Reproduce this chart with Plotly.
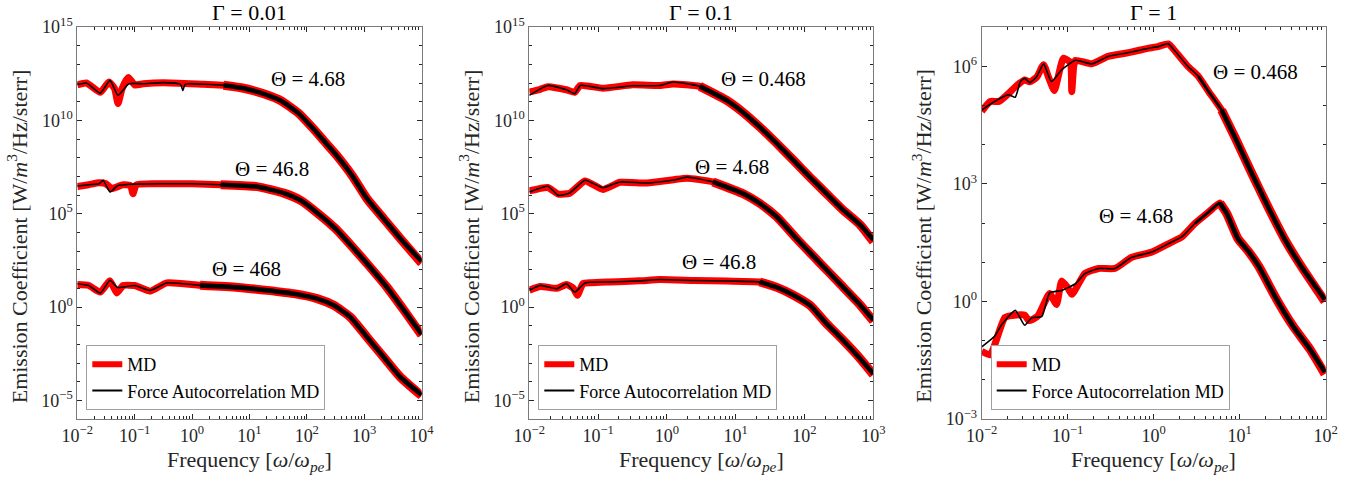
import plotly.graph_objects as go

# ---------------- data: log10(frequency [w/w_pe]) and log10(emission coefficient) ----------------
# Gamma = 0.01
g1_t468a_fa_x = [-2.0, -1.84, -1.6, -1.43, -1.29, -1.1, -0.85, -0.5, -0.2, -0.16, -0.12, 0.2, 0.55, 0.9, 1.25, 1.55, 1.85, 2.1, 2.3, 2.5, 2.8, 3.05, 3.35, 3.65, 4.0]
g1_t468a_fa_y = [11.91, 12.0, 11.46, 12.14, 11.34, 11.96, 11.96, 12.02, 11.93, 11.6, 11.93, 11.93, 11.88, 11.72, 11.42, 11.05, 10.4, 9.6, 8.9, 8.2, 7.0, 5.8, 4.7, 3.6, 2.45]
g1_t468a_md_x = [-2.0, -1.84, -1.6, -1.45, -1.35, -1.29, -1.22, -1.11, -1.0, -0.85, -0.5, 0.2, 0.55, 0.9, 1.25, 1.55, 1.85, 2.1, 2.3, 2.5, 2.8, 3.05, 3.35, 3.65, 4.0]
g1_t468a_md_y = [11.9, 12.0, 11.5, 12.05, 11.7, 10.9, 11.7, 12.3, 11.9, 11.96, 12.02, 11.93, 11.88, 11.72, 11.42, 11.05, 10.4, 9.6, 8.9, 8.2, 7.0, 5.8, 4.7, 3.6, 2.35]

g1_t468b_fa_x = [-2.0, -1.8, -1.62, -1.55, -1.43, -1.3, -1.0, -0.5, 0.0, 0.5, 1.13, 1.6, 1.9, 2.2, 2.5, 2.8, 3.1, 3.4, 3.7, 4.0]
g1_t468b_fa_y = [6.48, 6.55, 6.6, 6.79, 6.16, 6.5, 6.58, 6.6, 6.6, 6.55, 6.45, 6.1, 5.7, 5.0, 4.2, 3.2, 2.15, 1.05, -0.2, -1.45]
g1_t468b_md_x = [-2.0, -1.8, -1.62, -1.5, -1.4, -1.2, -1.07, -1.03, -0.97, -0.5, 0.0, 0.5, 1.13, 1.6, 1.9, 2.2, 2.5, 2.8, 3.1, 3.4, 3.7, 4.0]
g1_t468b_md_y = [6.45, 6.55, 6.65, 6.6, 6.35, 6.55, 6.5, 6.07, 6.55, 6.6, 6.6, 6.55, 6.45, 6.1, 5.7, 5.0, 4.2, 3.2, 2.15, 1.05, -0.2, -1.5]

g1_t468c_fa_x = [-2.0, -1.8, -1.6, -1.43, -1.3, -1.0, -0.73, -0.44, 0.14, 0.8, 1.31, 1.8, 2.18, 2.47, 2.76, 3.05, 3.34, 3.63, 4.0]
g1_t468c_fa_y = [1.25, 1.15, 0.75, 1.43, 1.05, 1.15, 0.89, 1.29, 1.16, 1.05, 0.89, 0.7, 0.45, 0.09, -0.54, -1.61, -2.68, -3.75, -4.7]
g1_t468c_md_x = [-2.0, -1.8, -1.6, -1.43, -1.31, -1.2, -1.0, -0.73, -0.44, 0.14, 0.8, 1.31, 1.8, 2.18, 2.47, 2.76, 3.05, 3.34, 3.63, 4.0]
g1_t468c_md_y = [1.2, 1.15, 0.8, 1.4, 0.75, 1.15, 1.15, 0.85, 1.29, 1.16, 1.05, 0.89, 0.7, 0.45, 0.09, -0.54, -1.61, -2.68, -3.75, -4.75]

# Gamma = 0.1
g2_a_fa_x = [-2.0, -1.73, -1.46, -1.34, -1.26, -0.93, -0.5, -0.1, 0.09, 0.48, 0.87, 1.1, 1.35, 1.6, 1.84, 2.08, 2.32, 2.56, 2.81, 3.0]
g2_a_fa_y = [11.34, 11.87, 11.64, 11.43, 11.87, 11.7, 11.85, 11.87, 12.05, 11.82, 11.07, 10.45, 9.64, 8.75, 7.86, 6.95, 6.07, 5.2, 4.4, 3.6]
g2_a_md_x = [-2.0, -1.85, -1.73, -1.46, -1.34, -1.26, -0.93, -0.5, -0.1, 0.09, 0.48, 0.87, 1.1, 1.35, 1.6, 1.84, 2.08, 2.32, 2.56, 2.81, 3.0]
g2_a_md_y = [11.52, 11.65, 11.8, 11.64, 11.5, 11.87, 11.72, 11.9, 11.87, 11.95, 11.82, 11.07, 10.45, 9.64, 8.75, 7.86, 6.95, 6.07, 5.2, 4.4, 3.5]

g2_b_fa_x = [-2.0, -1.73, -1.58, -1.41, -1.19, -0.93, -0.68, -0.29, 0.1, 0.29, 0.67, 1.11, 1.35, 1.6, 1.9, 2.2, 2.5, 2.8, 3.0]
g2_b_fa_y = [6.16, 6.47, 5.98, 6.11, 6.79, 6.39, 6.7, 6.64, 6.8, 6.96, 6.7, 6.07, 5.55, 4.82, 3.6, 2.45, 1.3, 0.15, -0.7]
g2_b_md_x = [-2.0, -1.73, -1.58, -1.41, -1.19, -0.93, -0.68, -0.29, 0.1, 0.29, 0.67, 1.11, 1.35, 1.6, 1.9, 2.2, 2.5, 2.8, 3.0]
g2_b_md_y = [6.22, 6.4, 6.05, 6.1, 6.75, 6.3, 6.68, 6.64, 6.82, 6.9, 6.7, 6.07, 5.55, 4.82, 3.6, 2.45, 1.3, 0.15, -0.75]

g2_c_fa_x = [-2.0, -1.84, -1.6, -1.46, -1.34, -1.19, -0.83, -0.4, -0.1, 0.4, 0.87, 1.35, 1.6, 1.84, 2.08, 2.32, 2.56, 2.81, 3.0]
g2_c_fa_y = [0.89, 1.16, 0.98, 1.25, 0.8, 1.29, 1.34, 1.4, 1.47, 1.42, 1.39, 1.34, 1.05, 0.63, 0.09, -0.89, -1.78, -2.77, -3.57]
g2_c_md_x = [-2.0, -1.84, -1.6, -1.46, -1.36, -1.3, -1.22, -1.1, -0.83, -0.4, -0.1, 0.4, 0.87, 1.35, 1.6, 1.84, 2.08, 2.32, 2.56, 2.81, 3.0]
g2_c_md_y = [0.9, 1.1, 1.0, 1.2, 1.0, 0.63, 1.25, 1.3, 1.34, 1.4, 1.47, 1.42, 1.39, 1.34, 1.05, 0.63, 0.09, -0.89, -1.78, -2.77, -3.62]

# Gamma = 1
g3_p_fa_x = [-2.0, -1.85, -1.69, -1.61, -1.55, -1.5, -1.44, -1.36, -1.28, -1.19, -1.07, -0.91, -0.72, -0.53, -0.33, -0.22, -0.14, -0.06, 0.05, 0.17, 0.25, 0.40, 0.52, 0.64, 0.79, 0.95, 1.14, 1.33, 1.53, 1.72, 1.99]
g3_p_fa_y = [4.88, 5.1, 5.27, 5.21, 5.61, 5.69, 5.58, 5.74, 6.06, 5.61, 5.91, 6.15, 6.06, 6.25, 6.33, 6.38, 6.42, 6.46, 6.50, 6.57, 6.38, 5.99, 5.74, 5.35, 4.88, 4.16, 3.27, 2.41, 1.56, 0.88, 0.05]
g3_p_md_x = [-2.0, -1.9, -1.8, -1.69, -1.62, -1.55, -1.5, -1.44, -1.36, -1.28, -1.22, -1.155, -1.05, -0.97, -0.953, -0.93, -0.91, -0.72, -0.53, -0.33, -0.22, -0.14, -0.06, 0.05, 0.17, 0.25, 0.40, 0.52, 0.64, 0.79, 0.95, 1.14, 1.33, 1.53, 1.72, 1.99]
g3_p_md_y = [4.85, 5.1, 5.1, 5.3, 5.45, 5.58, 5.65, 5.6, 5.72, 6.04, 5.7, 5.38, 6.2, 6.1, 5.35, 6.0, 6.15, 6.06, 6.25, 6.33, 6.38, 6.42, 6.46, 6.50, 6.57, 6.38, 5.99, 5.74, 5.35, 4.88, 4.16, 3.27, 2.41, 1.56, 0.88, 0.0]

g3_q_fa_x = [-2.0, -1.85, -1.77, -1.61, -1.50, -1.42, -1.30, -1.21, -1.07, -0.91, -0.80, -0.64, -0.45, -0.26, -0.02, 0.17, 0.33, 0.48, 0.64, 0.77, 0.85, 0.98, 1.10, 1.22, 1.43, 1.62, 1.82, 1.99]
g3_q_fa_y = [-1.16, -0.89, -0.6, -0.23, -0.61, -0.42, -0.38, 0.22, 0.28, 0.45, 0.71, 0.84, 0.84, 1.12, 1.26, 1.47, 1.65, 1.99, 2.28, 2.51, 2.24, 1.6, 1.28, 0.9, 0.05, -0.63, -1.23, -1.8]
g3_q_md_x = [-2.0, -1.9, -1.73, -1.6, -1.5, -1.45, -1.35, -1.21, -1.13, -1.07, -1.0, -0.95, -0.8, -0.64, -0.45, -0.26, -0.02, 0.17, 0.33, 0.48, 0.64, 0.77, 0.85, 0.98, 1.10, 1.22, 1.43, 1.62, 1.82, 1.99]
g3_q_md_y = [-1.27, -1.36, -0.41, -0.35, -0.35, -0.49, -0.38, 0.2, -0.08, 0.52, 0.35, 0.18, 0.71, 0.84, 0.84, 1.12, 1.26, 1.47, 1.65, 1.99, 2.28, 2.51, 2.24, 1.6, 1.28, 0.9, 0.05, -0.63, -1.23, -1.85]

panel_titles = ["Γ = 0.01", "Γ = 0.1", "Γ = 1"]
theta_labels = [["Θ = 4.68", "Θ = 46.8", "Θ = 468"],
                ["Θ = 0.468", "Θ = 4.68", "Θ = 46.8"],
                ["Θ = 0.468", "Θ = 4.68"]]
x_tick_exps = [[-2, -1, 0, 1, 2, 3, 4], [-2, -1, 0, 1, 2, 3], [-2, -1, 0, 1, 2]]
y_tick_exps = [[-5, 0, 5, 10, 15], [-5, 0, 5, 10, 15], [-3, 0, 3, 6]]

# ---------------- layout helpers ----------------
W, H = 1372, 480
FONT = "Liberation Serif, Times New Roman, Times, serif"
TOP, BOT = 27, 419
panels = [
    dict(x0=77.3, x1=421.5, xr=[-2, 4], yr=[-6, 15],
         curves=[(g1_t468a_md_x, g1_t468a_md_y, g1_t468a_fa_x, g1_t468a_fa_y, 0.55),
                 (g1_t468b_md_x, g1_t468b_md_y, g1_t468b_fa_x, g1_t468b_fa_y, 0.5),
                 (g1_t468c_md_x, g1_t468c_md_y, g1_t468c_fa_x, g1_t468c_fa_y, 0.14)],
         lab=[(2.03, 12.23), (1.40, 7.38), (0.956, 2.06)]),
    dict(x0=529.3, x1=873.3, xr=[-2, 3], yr=[-6, 15],
         curves=[(g2_a_md_x, g2_a_md_y, g2_a_fa_x, g2_a_fa_y, 0.48),
                 (g2_b_md_x, g2_b_md_y, g2_b_fa_x, g2_b_fa_y, 0.67),
                 (g2_c_md_x, g2_c_md_y, g2_c_fa_x, g2_c_fa_y, 1.35)],
         lab=[(1.40, 12.23), (0.94, 7.5), (0.75, 2.41)]),
    dict(x0=981.7, x1=1325.7, xr=[-2, 2], yr=[-3, 7],
         curves=[(g3_p_md_x, g3_p_md_y, g3_p_fa_x, g3_p_fa_y, 0.79),
                 (g3_q_md_x, g3_q_md_y, g3_q_fa_x, g3_q_fa_y, 0.77)],
         lab=[(1.186, 5.85), (-0.206, 2.17)]),
]

def lin(a):
    return [10 ** v for v in a]

def px(p):
    return p / W

def py(p):
    return 1 - p / H

def tail(xs, ys, start):
    # last part of a series (from 'start' on, log10 frequency)
    idx = [k for k, v in enumerate(xs) if v >= start]
    return [xs[k] for k in idx], [ys[k] for k in idx]

fig = go.Figure()
RED, BLACK = "#ff0000", "#000000"
annotations = []
layout = {}
for i, p in enumerate(panels):
    s = "" if i == 0 else str(i + 1)
    xa, ya = "x" + s, "y" + s
    lg = "legend" + s
    for (mx, my, fx, fy, ns) in p["curves"]:
        fig.add_trace(go.Scatter(x=lin(mx), y=lin(my), mode="lines",
                                 line=dict(color=RED, width=7, shape="spline", smoothing=0.5),
                                 xaxis=xa, yaxis=ya, showlegend=False, hoverinfo="skip"))
        tx, ty = tail(mx, my, ns)
        fig.add_trace(go.Scatter(x=lin(tx), y=lin(ty), mode="lines",
                                 line=dict(color=RED, width=9, shape="spline", smoothing=0.5),
                                 xaxis=xa, yaxis=ya, showlegend=False, hoverinfo="skip"))
    for (mx, my, fx, fy, ns) in p["curves"]:
        fig.add_trace(go.Scatter(x=lin(fx), y=lin(fy), mode="lines",
                                 line=dict(color=BLACK, width=1.6, shape="spline", smoothing=0.5),
                                 xaxis=xa, yaxis=ya, showlegend=False, hoverinfo="skip"))
        tx, ty = tail(fx, fy, ns - 0.35)
        fig.add_trace(go.Scatter(x=lin(tx), y=lin(ty), mode="lines",
                                 line=dict(color=BLACK, width=2.8, shape="spline", smoothing=0.5),
                                 xaxis=xa, yaxis=ya, showlegend=False, hoverinfo="skip"))
        tx, ty = tail(fx, fy, ns)
        fig.add_trace(go.Scatter(x=lin(tx), y=lin(ty), mode="lines",
                                 line=dict(color=BLACK, width=4.6, shape="spline", smoothing=0.5),
                                 xaxis=xa, yaxis=ya, showlegend=False, hoverinfo="skip"))
    # legend entries
    fig.add_trace(go.Scatter(x=[None], y=[None], mode="lines", name="MD", line=dict(color=RED, width=6),
                             xaxis=xa, yaxis=ya, legend=lg))
    fig.add_trace(go.Scatter(x=[None], y=[None], mode="lines", name="Force Autocorrelation MD",
                             line=dict(color=BLACK, width=2), xaxis=xa, yaxis=ya, legend=lg))

    xe = x_tick_exps[i]
    ye = y_tick_exps[i]
    tickfont = dict(family=FONT, size=18, color="#262626")
    xminor = [m * 10.0 ** k for k in range(p["xr"][0], p["xr"][1]) for m in range(2, 10)]
    yminor = [10.0 ** k for k in range(p["yr"][0], p["yr"][1] + 1) if k not in ye]
    common = dict(type="log", showline=True, linecolor="#7a7a7a", linewidth=1, mirror="allticks",
                  ticks="inside", ticklen=5, tickwidth=1, tickcolor="#262626", showgrid=False,
                  zeroline=False, automargin=False, tickfont=tickfont, fixedrange=True)
    layout["xaxis" + s] = dict(common, range=p["xr"], domain=[px(p["x0"]), px(p["x1"])], anchor=ya,
                               tickmode="array", tickvals=[10.0 ** k for k in xe],
                               ticktext=[f"10<sup>{str(k).replace('-', '−')}</sup>" for k in xe],
                               minor=dict(tickmode="array", tickvals=xminor, ticks="inside", ticklen=3,
                                          tickcolor="#262626", tickwidth=1))
    layout["yaxis" + s] = dict(common, range=p["yr"], domain=[py(BOT), py(TOP)], anchor=xa,
                               tickmode="array", tickvals=[10.0 ** k for k in ye],
                               ticktext=[f"10<sup>{str(k).replace('-', '−')}</sup>" for k in ye],
                               minor=dict(tickmode="array", tickvals=yminor, ticks="inside", ticklen=3,
                                          tickcolor="#262626", tickwidth=1))
    layout[lg] = dict(x=px(p["x0"] + 9), y=py(410), xanchor="left", yanchor="bottom", bgcolor="white",
                      bordercolor="#a0a0a0", borderwidth=1, itemwidth=30, tracegroupgap=0,
                      font=dict(family=FONT, size=18, color="#000"), itemclick=False, itemdoubleclick=False)
    cx = (p["x0"] + p["x1"]) / 2
    annotations.append(dict(text=panel_titles[i], x=px(cx), y=py(12), xref="paper", yref="paper",
                            showarrow=False, xanchor="center", yanchor="middle",
                            font=dict(family=FONT, size=22, color="#000")))
    annotations.append(dict(text="Frequency [<i>ω</i>/<i>ω</i><sub><i>pe</i></sub>]", x=px(cx), y=py(461),
                            xref="paper", yref="paper", showarrow=False, xanchor="center", yanchor="middle",
                            font=dict(family=FONT, size=22, color="#262626")))
    annotations.append(dict(text="Emission Coefficient [W/<i>m</i><sup>3</sup>/Hz/sterr]", x=px(p["x0"] - 60),
                            y=py(236), xref="paper", yref="paper", showarrow=False, textangle=-90,
                            xanchor="center", yanchor="middle",
                            font=dict(family=FONT, size=22, color="#262626")))
    for t, (lx, ly) in zip(theta_labels[i], p["lab"]):
        annotations.append(dict(text=t, x=lx, y=ly, xref=xa, yref=ya, showarrow=False,
                                xanchor="center", yanchor="middle",
                                font=dict(family=FONT, size=21, color="#000")))

fig.update_layout(width=W, height=H, margin=dict(l=0, r=0, t=0, b=0), paper_bgcolor="white",
                  plot_bgcolor="white", annotations=annotations, font=dict(family=FONT), **layout)
fig.write_html("out.html")
